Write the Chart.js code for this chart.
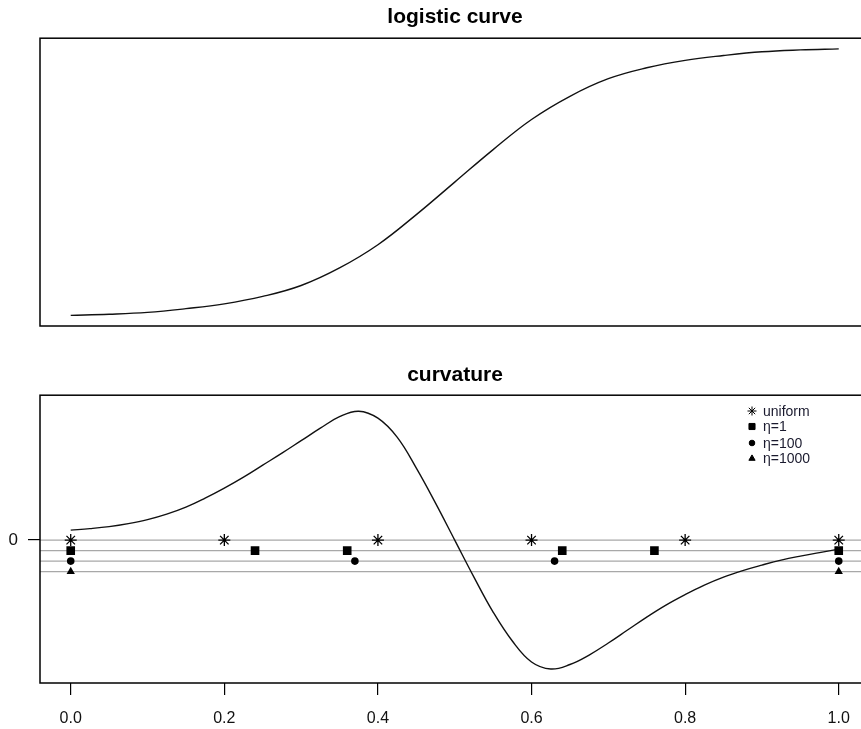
<!DOCTYPE html>
<html lang="en">
<head>
<meta charset="UTF-8">
<title>logistic curve / curvature</title>
<script src="https://cdn.jsdelivr.net/npm/chart.js@4"></script>
<style>
  * { margin: 0; padding: 0; box-sizing: border-box; }
  body { background: #fff; overflow: hidden; }
  .page { position: relative; width: 861px; height: 729px; overflow: hidden; background: #fff; }
  canvas { position: absolute; left: 0; }
  #top { top: 0; }
  #bottom { top: 360px; }
</style>
</head>
<body>
<div class="page">
  <canvas id="top" width="900" height="364"></canvas>
  <canvas id="bottom" width="900" height="369"></canvas>
</div>
<script>
// logistic curve
const logX = [0, 0.05, 0.1, 0.15, 0.2, 0.25, 0.3, 0.35, 0.4, 0.45, 0.5, 0.55, 0.6, 0.65, 0.7, 0.75, 0.8, 0.85, 0.9, 0.95, 1];
const logY = [0, 0.004, 0.011, 0.025, 0.043, 0.071, 0.112, 0.178, 0.265, 0.378, 0.5, 0.622, 0.735, 0.822, 0.888, 0.929, 0.957, 0.975, 0.989, 0.996, 1];

// curvature
const curvX = [0, 0.025, 0.05, 0.075, 0.1, 0.125, 0.15, 0.175, 0.2, 0.225, 0.25, 0.275, 0.3, 0.325, 0.35, 0.375, 0.4,
  0.425, 0.45, 0.475, 0.5, 0.525, 0.55, 0.575, 0.6, 0.625, 0.65, 0.675, 0.7, 0.725, 0.75, 0.775, 0.8,
  0.825, 0.85, 0.875, 0.9, 0.925, 0.95, 0.975, 1];
const curvY = [0.10, 0.115, 0.135, 0.165, 0.205, 0.26, 0.33, 0.42, 0.52, 0.63, 0.75, 0.87, 0.995, 1.12, 1.235, 1.29, 1.22,
  1.03, 0.72, 0.37, 0, -0.37, -0.72, -1.01, -1.22, -1.29, -1.245, -1.15, -1.03, -0.9, -0.77, -0.65, -0.545,
  -0.45, -0.37, -0.305, -0.25, -0.2, -0.16, -0.125, -0.09];

// sample points, one row per scheme
const seriesNames = ['uniform', 'η=1', 'η=100', 'η=1000'];
const uniformX = [0, 0.2, 0.4, 0.6, 0.8, 1];
const eta1X = [0, 0.24, 0.36, 0.64, 0.76, 1];
const eta100X = [0, 0.37, 0.63, 1];
const eta1000X = [0, 1];
const rowLevels = [0, -0.105, -0.21, -0.315];

const xTicks = [0, 0.2, 0.4, 0.6, 0.8, 1];
const yTicks = [0];

const pts = (xs, ys) => xs.map((x, i) => ({ x, y: Array.isArray(ys) ? ys[i] : ys }));

const X_MIN = -0.04, X_MAX = 1.0407;
const titleFont = { family: 'Liberation Sans, Arial, sans-serif', size: 21, weight: 'bold' };

// box around the plot region, like R's box()
const frame = {
  id: 'frame',
  afterDraw(chart) {
    const { ctx, chartArea: a } = chart;
    ctx.save();
    ctx.strokeStyle = '#000';
    ctx.lineWidth = 1.5;
    ctx.strokeRect(a.left, a.top, a.right - a.left, a.bottom - a.top);
    ctx.restore();
  }
};

// legend in the top right corner of the curvature panel
const keyBox = {
  id: 'keyBox',
  afterDraw(chart) {
    const ctx = chart.ctx;
    const sizes = [4.5, 4.3, 2.8, 3.6];
    const rowsY = [51, 66.5, 83, 98.5];
    ctx.save();
    chart.data.datasets.filter(d => d.keyRow !== undefined).forEach(ds => {
      const i = ds.keyRow;
      ctx.fillStyle = '#000';
      ctx.strokeStyle = '#000';
      ctx.lineWidth = 1;
      Chart.helpers.drawPoint(ctx, { pointStyle: ds.pointStyle, radius: sizes[i], rotation: 0, borderWidth: 1 }, 752, rowsY[i]);
      ctx.fillStyle = '#1a1a2e';
      ctx.font = '14px "Liberation Sans", Arial, sans-serif';
      ctx.textBaseline = 'middle';
      ctx.textAlign = 'left';
      ctx.fillText(ds.label, 763, rowsY[i] + 1);
    });
    ctx.restore();
  }
};

new Chart(document.getElementById('top'), {
  type: 'scatter',
  data: {
    datasets: [{
      label: 'logistic',
      data: pts(logX, logY),
      showLine: true,
      borderColor: '#111',
      borderWidth: 1.4,
      pointRadius: 0,
      tension: 0.4
    }]
  },
  options: {
    responsive: false,
    animation: false,
    devicePixelRatio: 1,
    layout: { padding: { left: 40, right: 30, top: 0, bottom: 38 } },
    plugins: {
      legend: { display: false },
      tooltip: { enabled: false },
      title: {
        display: true, text: 'logistic curve', color: '#000', fullSize: false,
        font: titleFont, padding: { top: 5, bottom: 8 }
      }
    },
    scales: {
      x: { type: 'linear', min: X_MIN, max: X_MAX, display: false },
      y: { type: 'linear', min: -0.04, max: 1.04, display: false }
    }
  },
  plugins: [frame]
});

const markerStyles = ['star', 'rect', 'circle', 'triangle'];
const markerRadius = [6, 6.1, 3.8, 4.8];
const markerX = [uniformX, eta1X, eta100X, eta1000X];

const markerSets = markerX.map((xs, i) => ({
  label: seriesNames[i],
  keyRow: i,
  data: pts(xs, rowLevels[i]),
  pointStyle: markerStyles[i],
  pointRadius: markerRadius[i],
  backgroundColor: '#000',
  borderColor: '#000',
  borderWidth: i === 0 ? 1.3 : 0,
  showLine: false
}));

const guideSets = rowLevels.map(v => ({
  label: 'guide ' + v,
  data: pts([X_MIN, X_MAX], v),
  showLine: true,
  borderColor: '#a8a8a8',
  borderWidth: 1.3,
  pointRadius: 0
}));

new Chart(document.getElementById('bottom'), {
  type: 'scatter',
  data: {
    datasets: [
      ...markerSets,
      {
        label: 'curvature',
        data: pts(curvX, curvY),
        showLine: true,
        borderColor: '#111',
        borderWidth: 1.4,
        pointRadius: 0,
        tension: 0.4
      },
      ...guideSets
    ]
  },
  options: {
    responsive: false,
    animation: false,
    devicePixelRatio: 1,
    layout: { padding: { left: 0, right: 30, top: 0, bottom: 0 } },
    plugins: {
      legend: { display: false },
      tooltip: { enabled: false },
      title: {
        display: true, text: 'curvature', color: '#000', fullSize: false,
        font: titleFont, padding: { top: 3, bottom: 7 }
      }
    },
    scales: {
      x: {
        type: 'linear', min: X_MIN, max: X_MAX,
        afterBuildTicks: s => { s.ticks = xTicks.map(v => ({ value: v })); },
        afterFit: s => { s.height = 46; },
        border: { display: false },
        grid: { drawOnChartArea: false, drawTicks: true, tickLength: 12, color: '#000', lineWidth: 1.2 },
        ticks: {
          color: '#111', padding: 14, maxRotation: 0,
          font: { family: '"Liberation Sans Narrow", "Liberation Sans", Arial, sans-serif', size: 16 },
          callback: v => v.toFixed(1)
        }
      },
      y: {
        type: 'linear', min: -1.43, max: 1.45,
        afterBuildTicks: s => { s.ticks = yTicks.map(v => ({ value: v })); },
        afterFit: s => { s.width = 40; },
        border: { display: false },
        grid: { drawOnChartArea: false, drawTicks: true, tickLength: 12, color: '#000', lineWidth: 1.2 },
        ticks: {
          color: '#111', padding: 10,
          font: { family: '"Liberation Sans", Arial, sans-serif', size: 17 },
          callback: v => String(v)
        }
      }
    }
  },
  plugins: [frame, keyBox]
});
</script>
</body>
</html>
